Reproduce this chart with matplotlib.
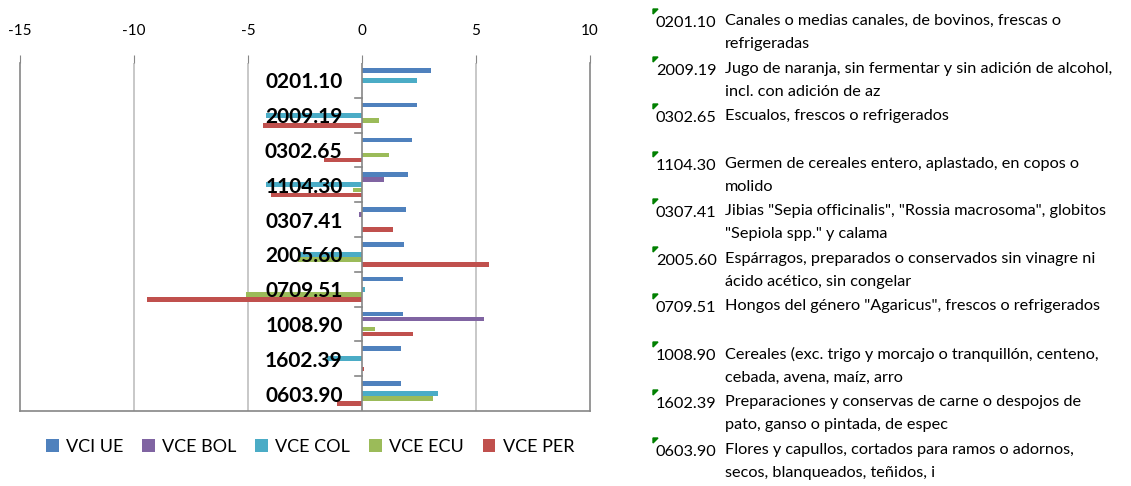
import numpy as np
import matplotlib.pyplot as plt
from matplotlib.patches import Polygon

W, H = 1131, 486

codes = ['0201.10', '2009.19', '0302.65', '1104.30', '0307.41',
         '2005.60', '0709.51', '1008.90', '1602.39', '0603.90']
descriptions = [
    'Canales o medias canales, de bovinos, frescas o\nrefrigeradas',
    'Jugo de naranja, sin fermentar y sin adición de alcohol,\nincl. con adición de az',
    'Escualos, frescos o refrigerados',
    'Germen de cereales entero, aplastado, en copos o\nmolido',
    'Jibias "Sepia officinalis", "Rossia macrosoma", globitos\n"Sepiola spp." y calama',
    'Espárragos, preparados o conservados sin vinagre ni\nácido acético, sin congelar',
    'Hongos del género "Agaricus", frescos o refrigerados',
    'Cereales (exc. trigo y morcajo o tranquillón, centeno,\ncebada, avena, maíz, arro',
    'Preparaciones y conservas de carne o despojos de\npato, ganso o pintada, de espec',
    'Flores y capullos, cortados para ramos o adornos,\nsecos, blanqueados, teñidos, i',
]
series_names = ['VCI UE', 'VCE BOL', 'VCE COL', 'VCE ECU', 'VCE PER']
vci_ue = [3.04, 2.43, 2.20, 2.03, 1.95, 1.86, 1.81, 1.81, 1.69, 1.69]
vce_bol = [0, 0, 0, 0.96, -0.12, 0, 0, 5.34, 0, 0]
vce_col = [2.43, -4.20, 0, -4.20, 0, -2.75, 0.12, 0, -1.52, 3.34]
vce_ecu = [0, 0.75, 1.17, -0.39, 0, -2.80, -5.07, 0.56, 0, 3.13]
vce_per = [0, -4.35, -1.65, -3.97, 1.34, 5.57, -9.43, 2.24, 0.10, -1.10]
colors = ['#4F81BD', '#8064A2', '#4BACC6', '#9BBB59', '#C0504D']

# code positions in the right-hand list (pixel y of the first line)
list_y = [22, 70, 117, 165, 212, 260, 307, 355, 403, 451]

plt.rcParams['font.family'] = ['Lato', 'DejaVu Sans']

fig = plt.figure(figsize=(W / 100, H / 100), dpi=100)

def fx(px):
    return px / W

def fy(py):
    return 1 - py / H

ax = fig.add_axes([fx(20), fy(411), fx(590 - 20), (411 - 63) / H])

all_series = [vci_ue, vce_bol, vce_col, vce_ecu, vce_per]
n = len(codes)
y = np.arange(n)
bh = 0.145
for i, (vals, name, c) in enumerate(zip(all_series, series_names, colors)):
    ax.barh(y - 0.29 + i * bh, vals, height=bh * 0.92, color=c, label=name, zorder=2)

ax.set_xlim(-15, 10)
ax.set_ylim(n - 0.5, -0.5)
ax.xaxis.tick_top()
ax.set_xticks([-15, -10, -5, 0, 5, 10])
ax.set_xticklabels(['-15', '-10', '-5', '0', '5', '10'], fontsize=11)
ax.tick_params(axis='x', length=6, color='#868686', pad=12)
for v in [-10, -5, 5]:
    ax.axvline(v, color='#BFBFBF', lw=1.2, zorder=1)
ax.axvline(0, color='#868686', lw=1.2, zorder=3)
ax.spines['top'].set_visible(False)
for s in ['left', 'right', 'bottom']:
    ax.spines[s].set_color('#868686')
    ax.spines[s].set_linewidth(1.2)

ax.set_yticks([])
for b in np.arange(0.5, n - 0.5, 1.0):
    ax.plot([-0.3, 0], [b, b], color='#868686', lw=1.2, zorder=3, clip_on=False)
for i, code in enumerate(codes):
    ax.text(-0.85, i + 0.06, code, ha='right', va='center', fontsize=15,
            fontweight='bold', zorder=5)

handles, labels = ax.get_legend_handles_labels()
fig.legend(handles, labels, loc='center', bbox_to_anchor=(fx(310), fy(447)),
           ncol=5, frameon=False, fontsize=13, handlelength=0.7, handleheight=0.7,
           columnspacing=1.05, handletextpad=0.4)

for code, desc, py in zip(codes, descriptions, list_y):
    fig.text(fx(656), fy(py + 1), code, fontsize=11.7, va='center', ha='left')
    fig.text(fx(725), fy(py - 8), desc, fontsize=11.7, va='top', ha='left',
             linespacing=1.8)
    tri = Polygon([[fx(653), fy(py - 13)], [fx(658), fy(py - 13)], [fx(653), fy(py - 8)]],
                  closed=True, color='#008000', transform=fig.transFigure)
    fig.add_artist(tri)

fig.savefig('out.png', dpi=100)
